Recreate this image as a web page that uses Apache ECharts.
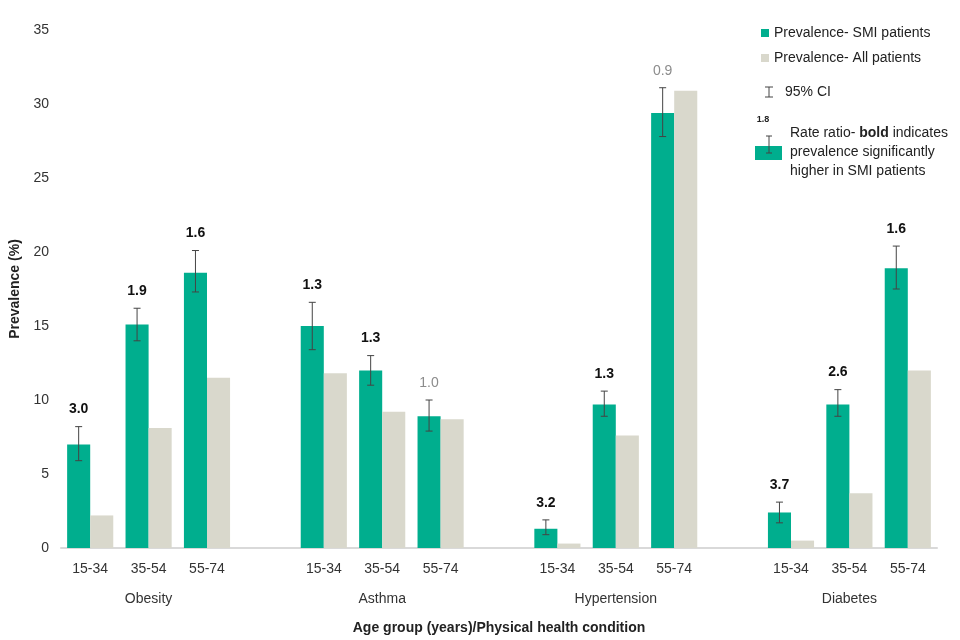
<!DOCTYPE html>
<html>
<head>
<meta charset="utf-8">
<title>Prevalence SMI vs all patients</title>
<script src="https://cdn.jsdelivr.net/npm/echarts@6/dist/echarts.min.js"></script>
<style>
  html, body { margin: 0; padding: 0; background: #fff; }
  #main { width: 960px; height: 640px; }
</style>
</head>
<body>
<div id="main"></div>
<script>
// 年龄组 (每组之间留一个空位)
var ageLabels = ['15-34', '35-54', '55-74', '',
                 '15-34', '35-54', '55-74', '',
                 '15-34', '35-54', '55-74', '',
                 '15-34', '35-54', '55-74'];
// 疾病名称, 放在每组中间的位置
var groupLabels = ['', 'Obesity', '', '',
                   '', 'Asthma', '', '',
                   '', 'Hypertension', '', '',
                   '', 'Diabetes', ''];

// SMI 患者患病率
var smiValues = [7.0, 15.1, 18.6, null, 15.0, 12.0, 8.9, null, 1.3, 9.7, 29.4, null, 2.4, 9.7, 18.9];
// 所有患者患病率
var allValues = [2.2, 8.1, 11.5, null, 11.8, 9.2, 8.7, null, 0.3, 7.6, 30.9, null, 0.5, 3.7, 12.0];
// 95% 置信区间
var ciLow  = [5.9, 14.0, 17.3, null, 13.4, 11.0, 7.9, null, 0.9, 8.9, 27.8, null, 1.7, 8.9, 17.5];
var ciHigh = [8.2, 16.2, 20.1, null, 16.6, 13.0, 10.0, null, 1.9, 10.6, 31.1, null, 3.1, 10.7, 20.4];
// 比率, bold = 显著更高
var rateRatio = ['3.0', '1.9', '1.6', '', '1.3', '1.3', '1.0', '', '3.2', '1.3', '0.9', '', '3.7', '2.6', '1.6'];
var ratioBold = [true, true, true, false, true, true, false, false, true, true, false, false, true, true, true];

var green = '#00AE8E';
var grey = '#D9D8CC';
var fontName = '"Liberation Sans", Arial, sans-serif';

// 误差线数据
var errorData = [];
for (var i = 0; i < smiValues.length; i++) {
  if (smiValues[i] !== null) {
    errorData.push([i, ciLow[i], ciHigh[i]]);
  }
}

var chart = echarts.init(document.getElementById('main'));

function renderError(params, api) {
  var idx = api.value(0);
  var band = api.size([1, 0])[0];
  var hi = api.coord([idx, api.value(2)]);
  var lo = api.coord([idx, api.value(1)]);
  // 绿色柱子的中心
  var x = hi[0] - band * 0.1975;
  var cap = 3.5;
  var lineStyle = { stroke: '#444', lineWidth: 1 };
  var bold = ratioBold[idx];
  return {
    type: 'group',
    children: [
      { type: 'line', shape: { x1: x, y1: hi[1], x2: x, y2: lo[1] }, style: lineStyle },
      { type: 'line', shape: { x1: x - cap, y1: hi[1], x2: x + cap, y2: hi[1] }, style: lineStyle },
      { type: 'line', shape: { x1: x - cap, y1: lo[1], x2: x + cap, y2: lo[1] }, style: lineStyle },
      {
        type: 'text',
        x: x,
        y: hi[1] - 17,
        style: {
          text: rateRatio[idx],
          align: 'center',
          verticalAlign: 'middle',
          fill: bold ? '#111' : '#8c8c8c',
          fontSize: 14,
          fontWeight: bold ? 'bold' : 'normal',
          fontFamily: fontName
        }
      }
    ]
  };
}

var option = {
  textStyle: { fontFamily: fontName },
  grid: { left: 60, right: 23, top: 30, bottom: 91 },
  legend: {
    data: ['Prevalence- SMI patients', 'Prevalence- All patients'],
    orient: 'vertical',
    left: 756,
    top: 21,
    icon: 'rect',
    itemWidth: 8,
    itemHeight: 8,
    itemGap: 11,
    textStyle: { fontSize: 14, color: '#222', fontFamily: fontName }
  },
  xAxis: [
    {
      type: 'category',
      data: ageLabels,
      axisLine: { lineStyle: { color: '#d9d9d9', width: 2 } },
      axisTick: { show: false },
      axisLabel: { interval: 0, fontSize: 14, color: '#333', margin: 14 },
      name: 'Age group (years)/Physical health condition',
      nameLocation: 'middle',
      nameGap: 73,
      nameTextStyle: { fontSize: 14, fontWeight: 'bold', color: '#222' }
    },
    {
      type: 'category',
      data: groupLabels,
      position: 'bottom',
      offset: 30,
      axisLine: { show: false },
      axisTick: { show: false },
      axisLabel: { interval: 0, fontSize: 14, color: '#333', margin: 14 }
    }
  ],
  yAxis: {
    type: 'value',
    min: 0,
    max: 35,
    interval: 5,
    splitLine: { show: false },
    axisLine: { show: false },
    axisTick: { show: false },
    axisLabel: { fontSize: 14, color: '#333', margin: 12 },
    name: 'Prevalence (%)',
    nameLocation: 'middle',
    nameGap: 39,
    nameTextStyle: { fontSize: 14, fontWeight: 'bold', color: '#222' }
  },
  series: [
    {
      name: 'Prevalence- SMI patients',
      type: 'bar',
      data: smiValues,
      itemStyle: { color: green },
      barGap: 0,
      barCategoryGap: '21%'
    },
    {
      name: 'Prevalence- All patients',
      type: 'bar',
      data: allValues,
      itemStyle: { color: grey }
    },
    {
      name: '95% CI',
      type: 'custom',
      renderItem: renderError,
      data: errorData,
      z: 10
    }
  ],
  // 图例的其余部分 (置信区间, 比率说明)
  graphic: [
    { type: 'line', shape: { x1: 769, y1: 87, x2: 769, y2: 97 }, style: { stroke: '#444', lineWidth: 1 } },
    { type: 'line', shape: { x1: 765, y1: 87, x2: 773, y2: 87 }, style: { stroke: '#444', lineWidth: 1 } },
    { type: 'line', shape: { x1: 765, y1: 97, x2: 773, y2: 97 }, style: { stroke: '#444', lineWidth: 1 } },
    { type: 'text', x: 785, y: 92, style: { text: '95% CI', fontSize: 14, fill: '#222', fontFamily: fontName, verticalAlign: 'middle' } },
    { type: 'text', x: 763, y: 120, style: { text: '1.8', fontSize: 9, fontWeight: 'bold', fill: '#222', fontFamily: fontName, align: 'center', verticalAlign: 'middle' } },
    { type: 'rect', shape: { x: 755, y: 146, width: 27, height: 14 }, style: { fill: green } },
    { type: 'line', shape: { x1: 769, y1: 136, x2: 769, y2: 153 }, style: { stroke: '#444', lineWidth: 1 } },
    { type: 'line', shape: { x1: 766, y1: 136, x2: 772, y2: 136 }, style: { stroke: '#444', lineWidth: 1 } },
    { type: 'line', shape: { x1: 766, y1: 153, x2: 772, y2: 153 }, style: { stroke: '#444', lineWidth: 1 } },
    {
      type: 'text', x: 790, y: 124,
      style: {
        text: 'Rate ratio- {b|bold} indicates\nprevalence significantly\nhigher in SMI patients',
        fontSize: 14, fill: '#222', fontFamily: fontName, lineHeight: 19,
        rich: { b: { fontWeight: 'bold', fontSize: 14, fill: '#222', lineHeight: 19 } }
      }
    }
  ]
};

chart.setOption(option);
</script>
</body>
</html>
